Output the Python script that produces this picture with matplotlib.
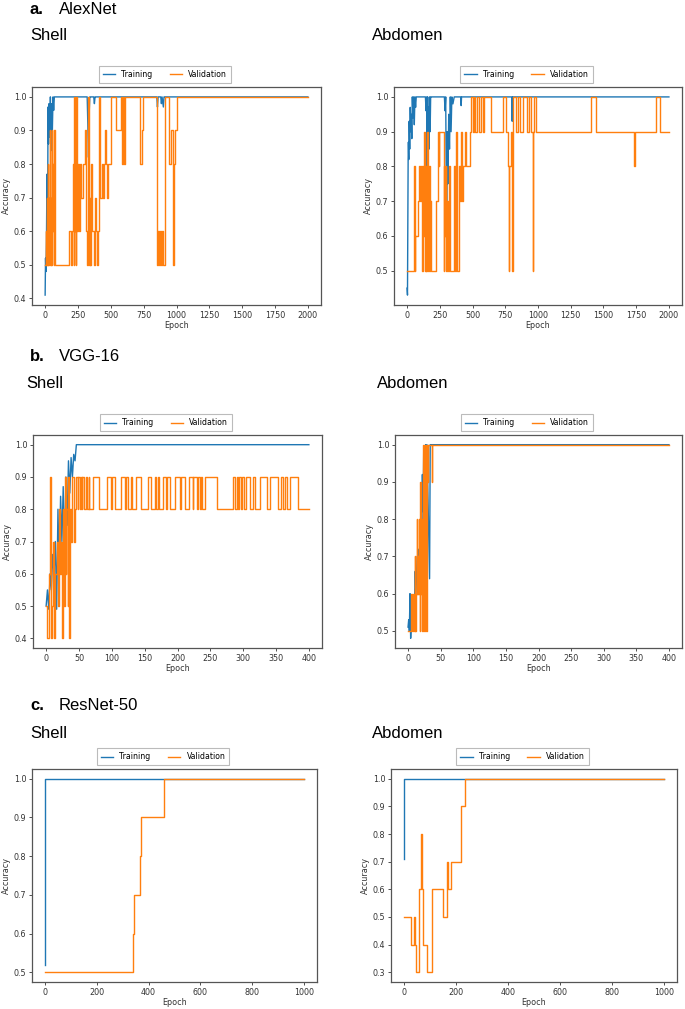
import matplotlib
matplotlib.use('Agg')
import matplotlib.pyplot as plt

# ---- a. AlexNet, shell ----
alex_shell_train_ep = [0, 3, 6, 10, 14, 18, 22, 26, 30, 35, 40, 45, 50, 55, 60, 65, 70, 80,
                       320, 325, 330, 335, 340, 345, 370, 375, 380, 385,
                       850, 855, 860, 880, 885, 890, 900, 905, 910, 2000]
alex_shell_train_acc = [0.41, 0.52, 0.48, 0.57, 0.77, 0.52, 0.97, 0.86, 0.98, 0.88, 1.0, 0.84, 0.98, 0.9, 1.0, 0.96, 1.0, 1.0,
                        1.0, 0.92, 0.82, 0.95, 1.0, 1.0, 1.0, 0.98, 1.0, 1.0,
                        1.0, 0.97, 1.0, 1.0, 0.98, 1.0, 0.97, 1.0, 1.0, 1.0]
alex_shell_val_ep = [0, 4, 8, 12, 16, 20, 24, 28, 32, 36,
                     40, 44, 48, 52, 56, 60, 64, 68, 72, 180,
                     195, 205, 212, 218, 222, 226, 230, 234, 238, 242,
                     246, 250, 255, 262, 270, 285, 300, 308, 322, 330,
                     335, 340, 345, 352, 360, 370, 378, 385, 395, 405,
                     410, 418, 430, 440, 448, 455, 462, 470, 480, 500,
                     540, 575, 585, 590, 600, 610, 725, 735, 745, 850,
                     860, 868, 875, 880, 890, 900, 910, 940, 955, 970,
                     975, 980, 990, 1005, 2000]
alex_shell_val_acc = [0.5, 0.6, 0.5, 0.7, 0.5, 0.8, 0.5, 0.7, 0.6, 0.9,
                      0.5, 0.7, 0.5, 0.9, 0.6, 0.8, 0.5, 0.9, 0.5, 0.6,
                      0.5, 0.6, 0.8, 0.5, 1.0, 0.6, 0.9, 0.5, 1.0, 0.7,
                      0.6, 0.8, 0.6, 0.8, 0.7, 0.8, 0.9, 0.6, 0.5, 1.0,
                      0.5, 0.7, 0.5, 0.8, 0.6, 0.5, 0.7, 0.6, 0.5, 0.6,
                      1.0, 0.7, 0.8, 0.7, 0.8, 0.9, 0.8, 0.7, 0.8, 1.0,
                      0.9, 1.0, 0.8, 1.0, 0.8, 1.0, 0.8, 0.9, 1.0, 0.5,
                      0.6, 0.5, 0.6, 0.5, 0.6, 0.5, 1.0, 0.8, 0.9, 0.8,
                      0.5, 0.8, 0.9, 1.0, 1.0]

# ---- a. AlexNet, abdomen ----
alex_abd_train_ep = [0, 3, 5, 8, 10, 13, 16, 20, 24, 28, 32, 36, 40, 45, 50, 55, 60, 65, 70,
                     140, 145, 150, 153, 157, 160, 164, 168, 172, 176, 180, 185,
                     285, 290, 295, 300, 303, 307, 312, 318, 324, 330, 336, 342, 350, 360,
                     410, 413, 416, 800, 803, 806, 2000]
alex_abd_train_acc = [0.45, 0.43, 0.59, 0.82, 0.87, 0.82, 0.93, 0.85, 0.97, 0.9, 0.95, 0.88, 1.0, 0.94, 1.0, 0.92, 1.0, 0.97, 1.0,
                      1.0, 0.96, 1.0, 0.8, 1.0, 0.78, 0.97, 0.85, 1.0, 0.9, 1.0, 1.0,
                      1.0, 0.96, 1.0, 0.7, 0.56, 0.9, 0.75, 0.95, 0.85, 1.0, 0.9, 1.0, 0.98, 1.0,
                      1.0, 0.975, 1.0, 1.0, 0.93, 1.0, 1.0]
alex_abd_val_ep = [0, 56, 59, 64, 80, 94, 100, 108, 115, 122, 128, 132, 137, 142, 147, 152, 157, 162,
                   167, 172, 177, 183, 222, 235, 241, 247, 280, 285, 290, 295, 300, 306, 312, 318, 324,
                   360, 368, 375, 385, 395, 405, 413, 420, 430, 440, 451, 482, 492, 502, 512,
                   522, 532, 553, 565, 578, 591, 642, 731, 757, 770, 777, 780, 795, 803, 806,
                   830, 845, 860, 883, 913, 930, 945, 958, 962, 970, 985, 1005, 1408, 1440,
                   1735, 1741, 1904, 1935, 2000]
alex_abd_val_acc = [0.5, 0.8, 0.5, 0.6, 0.7, 0.8, 0.7, 0.8, 0.5, 0.8, 0.6, 0.9, 0.5, 0.8, 0.5, 0.9, 0.6, 0.5,
                    0.8, 0.5, 0.7, 0.5, 0.7, 0.9, 0.8, 0.9, 0.5, 0.8, 0.6, 0.8, 0.5, 0.7, 0.5, 0.8, 0.5,
                    0.8, 0.5, 0.9, 0.5, 0.8, 0.7, 0.9, 0.7, 0.8, 0.9, 0.8, 0.9, 1.0, 0.9, 1.0,
                    0.9, 1.0, 0.9, 1.0, 0.9, 1.0, 0.9, 1.0, 0.9, 0.8, 0.5, 0.8, 0.9, 0.5, 1.0,
                    0.9, 1.0, 0.9, 1.0, 0.9, 1.0, 0.9, 0.5, 0.9, 1.0, 0.9, 0.9, 1.0, 0.9,
                    0.8, 0.9, 1.0, 0.9, 0.9]

# ---- b. VGG-16, shell ----
vgg_shell_train_ep = [0, 2, 4, 6, 8, 10, 12, 14, 16, 18, 20, 22, 24, 26, 28, 30, 32, 34, 36, 38, 40, 42, 44, 46, 400]
vgg_shell_train_acc = [0.5, 0.55, 0.49, 0.6, 0.55, 0.66, 0.6, 0.7, 0.49, 0.8, 0.6, 0.84, 0.7, 0.87, 0.62, 0.9,
                       0.75, 0.95, 0.85, 0.96, 0.9, 0.97, 0.95, 1.0, 1.0]
vgg_shell_val_ep = [0, 2, 4, 6, 7, 9, 10, 12, 14, 16, 18, 19, 21, 23, 24, 25, 27, 28, 30, 31, 33, 34, 35, 37, 38,
                    40, 42, 44, 46, 48, 49, 51, 53, 54, 55, 57, 60, 62, 65, 66, 71, 81, 92, 99, 101, 105,
                    114, 120, 122, 125, 129, 131, 137, 145, 155, 160, 166, 168, 170, 172, 178, 182, 184, 189,
                    196, 204, 206, 211, 218, 223, 224, 229, 231, 234, 236, 238, 242, 260, 285, 288, 290, 292,
                    294, 296, 298, 302, 305, 310, 315, 318, 326, 336, 341, 353, 357, 361, 363, 366, 371, 383, 400]
vgg_shell_val_acc = [0.5, 0.4, 0.6, 0.9, 0.4, 0.5, 0.7, 0.4, 0.6, 0.7, 0.5, 0.8, 0.6, 0.7, 0.4, 0.8, 0.5, 0.9, 0.6,
                     0.8, 0.5, 0.9, 0.4, 0.8, 0.7, 0.9, 0.7, 0.8, 0.9, 0.8, 0.9, 0.8, 0.9, 0.8, 0.9, 0.8,
                     0.9, 0.8, 0.9, 0.8, 0.9, 0.8, 0.9, 0.8, 0.9, 0.8, 0.9, 0.8, 0.9, 0.8, 0.9, 0.8, 0.9,
                     0.8, 0.9, 0.8, 0.9, 0.8, 0.9, 0.8, 0.9, 0.8, 0.9, 0.8, 0.9, 0.8, 0.9, 0.8, 0.9, 0.8,
                     0.9, 0.8, 0.9, 0.8, 0.9, 0.8, 0.9, 0.8, 0.9, 0.8, 0.9, 0.8, 0.9, 0.8, 0.9, 0.8, 0.9,
                     0.8, 0.9, 0.8, 0.9, 0.8, 0.9, 0.8, 0.9, 0.8, 0.9, 0.8, 0.9, 0.8, 0.8]

# ---- b. VGG-16, abdomen ----
vgg_abd_train_ep = [0, 1, 2, 3, 4, 5, 6, 8, 9, 11, 12, 14, 15, 17, 18, 20, 21, 22, 23, 24, 25, 26, 27, 28, 29, 33, 34, 400]
vgg_abd_train_acc = [0.51, 0.53, 0.5, 0.6, 0.48, 0.52, 0.5, 0.56, 0.5, 0.66, 0.6, 0.7, 0.63, 0.72, 0.68, 0.86,
                     0.78, 0.92, 0.82, 0.98, 0.54, 0.92, 1.0, 0.8, 1.0, 0.64, 1.0, 1.0]
vgg_abd_val_ep = [0, 5, 6, 8, 9, 10, 11, 12, 13, 14, 15, 16, 17, 18, 19, 20, 21, 22, 23, 24, 25, 26, 27, 28,
                  29, 30, 31, 36, 37, 400]
vgg_abd_val_acc = [0.5, 0.6, 0.5, 0.6, 0.5, 0.7, 0.5, 0.6, 0.8, 0.6, 0.7, 0.6, 0.8, 0.5, 0.9, 0.6, 0.8, 0.5,
                   1.0, 0.8, 0.5, 1.0, 0.9, 0.5, 1.0, 0.9, 1.0, 0.9, 1.0, 1.0]

# ---- c. ResNet-50 ----
res_shell_train_ep = [0, 1, 1000]
res_shell_train_acc = [0.52, 1.0, 1.0]
res_shell_val_ep = [0, 338, 345, 365, 372, 458, 1000]
res_shell_val_acc = [0.5, 0.6, 0.7, 0.8, 0.9, 1.0, 1.0]

res_abd_train_ep = [0, 1, 1000]
res_abd_train_acc = [0.71, 1.0, 1.0]
res_abd_val_ep = [0, 27, 38, 42, 46, 59, 65, 68, 72, 90, 106, 151, 164, 170, 181, 218, 220, 236, 1000]
res_abd_val_acc = [0.5, 0.4, 0.5, 0.4, 0.3, 0.6, 0.8, 0.6, 0.4, 0.3, 0.6, 0.5, 0.7, 0.6, 0.7, 0.8, 0.9, 1.0, 1.0]

W, H = 685, 1009
BLUE = '#1f77b4'
ORANGE = '#ff7f0e'

fig = plt.figure(figsize=(W / 100, H / 100), dpi=100)
fig.patch.set_facecolor('white')


def make_axes(left, right, top, bottom):
    return fig.add_axes([left / W, 1 - bottom / H, (right - left) / W, (bottom - top) / H])


def draw_panel(ax, tr_ep, tr_acc, va_ep, va_acc, xticks, yticks, steps_train=False):
    ax.plot(tr_ep, tr_acc, color=BLUE, lw=1.0, label='Training',
            drawstyle='steps-post' if steps_train else 'default')
    ax.plot(va_ep, va_acc, color=ORANGE, lw=1.0, label='Validation', drawstyle='steps-post')
    ax.set_xticks(xticks)
    ax.set_yticks(yticks)
    ax.set_yticklabels(['%.1f' % v for v in yticks])
    ax.tick_params(labelsize=5.8, length=2, width=0.6, colors='#333333', pad=2)
    for s in ax.spines.values():
        s.set_color('#555555')
        s.set_linewidth(0.9)
    ax.set_xlabel('Epoch', fontsize=5.8, color='#333333', labelpad=1)
    ax.set_ylabel('Accuracy', fontsize=5.8, color='#333333', labelpad=2)
    leg = ax.legend(loc='lower center', bbox_to_anchor=(0.46, 1.018), ncol=2, fontsize=5.6,
                    frameon=True, fancybox=False, handlelength=1.6, columnspacing=2.2,
                    borderaxespad=0, borderpad=0.5)
    leg.get_frame().set_edgecolor('#aaaaaa')
    leg.get_frame().set_linewidth(0.8)


alex_x = [0, 250, 500, 750, 1000, 1250, 1500, 1750, 2000]
vgg_x = [0, 50, 100, 150, 200, 250, 300, 350, 400]
res_x = [0, 200, 400, 600, 800, 1000]

ax = make_axes(32, 321, 87, 305)
draw_panel(ax, alex_shell_train_ep, alex_shell_train_acc, alex_shell_val_ep, alex_shell_val_acc,
           alex_x, [0.4, 0.5, 0.6, 0.7, 0.8, 0.9, 1.0])
ax = make_axes(394, 682, 87, 305)
draw_panel(ax, alex_abd_train_ep, alex_abd_train_acc, alex_abd_val_ep, alex_abd_val_acc,
           alex_x, [0.5, 0.6, 0.7, 0.8, 0.9, 1.0])

ax = make_axes(33, 322, 435, 648)
draw_panel(ax, vgg_shell_train_ep, vgg_shell_train_acc, vgg_shell_val_ep, vgg_shell_val_acc,
           vgg_x, [0.4, 0.5, 0.6, 0.7, 0.8, 0.9, 1.0])
ax = make_axes(395, 682, 435, 648)
draw_panel(ax, vgg_abd_train_ep, vgg_abd_train_acc, vgg_abd_val_ep, vgg_abd_val_acc,
           vgg_x, [0.5, 0.6, 0.7, 0.8, 0.9, 1.0])

ax = make_axes(32, 317, 769, 982)
draw_panel(ax, res_shell_train_ep, res_shell_train_acc, res_shell_val_ep, res_shell_val_acc,
           res_x, [0.5, 0.6, 0.7, 0.8, 0.9, 1.0], steps_train=True)
ax = make_axes(391, 677, 769, 982)
draw_panel(ax, res_abd_train_ep, res_abd_train_acc, res_abd_val_ep, res_abd_val_acc,
           res_x, [0.3, 0.4, 0.5, 0.6, 0.7, 0.8, 0.9, 1.0], steps_train=True)

# headings
head_font = ['Liberation Sans', 'DejaVu Sans']
headers = [('a.', 'AlexNet', 9), ('b.', 'VGG-16', 356), ('c.', 'ResNet-50', 705)]
for letter, name, y in headers:
    fig.text(30 / W, 1 - y / H, letter, fontsize=12, fontweight='bold', family=head_font, va='center')
    fig.text(59 / W, 1 - y / H, name, fontsize=12, family=head_font, va='center')

subs = [(30, 36, 'Shell'), (372, 36, 'Abdomen'), (26, 384, 'Shell'), (377, 384, 'Abdomen'),
        (30, 733, 'Shell'), (372, 733, 'Abdomen')]
for x, y, t in subs:
    fig.text(x / W, 1 - y / H, t, fontsize=12, family=head_font, va='center')

plt.savefig('out.png', dpi=100)
